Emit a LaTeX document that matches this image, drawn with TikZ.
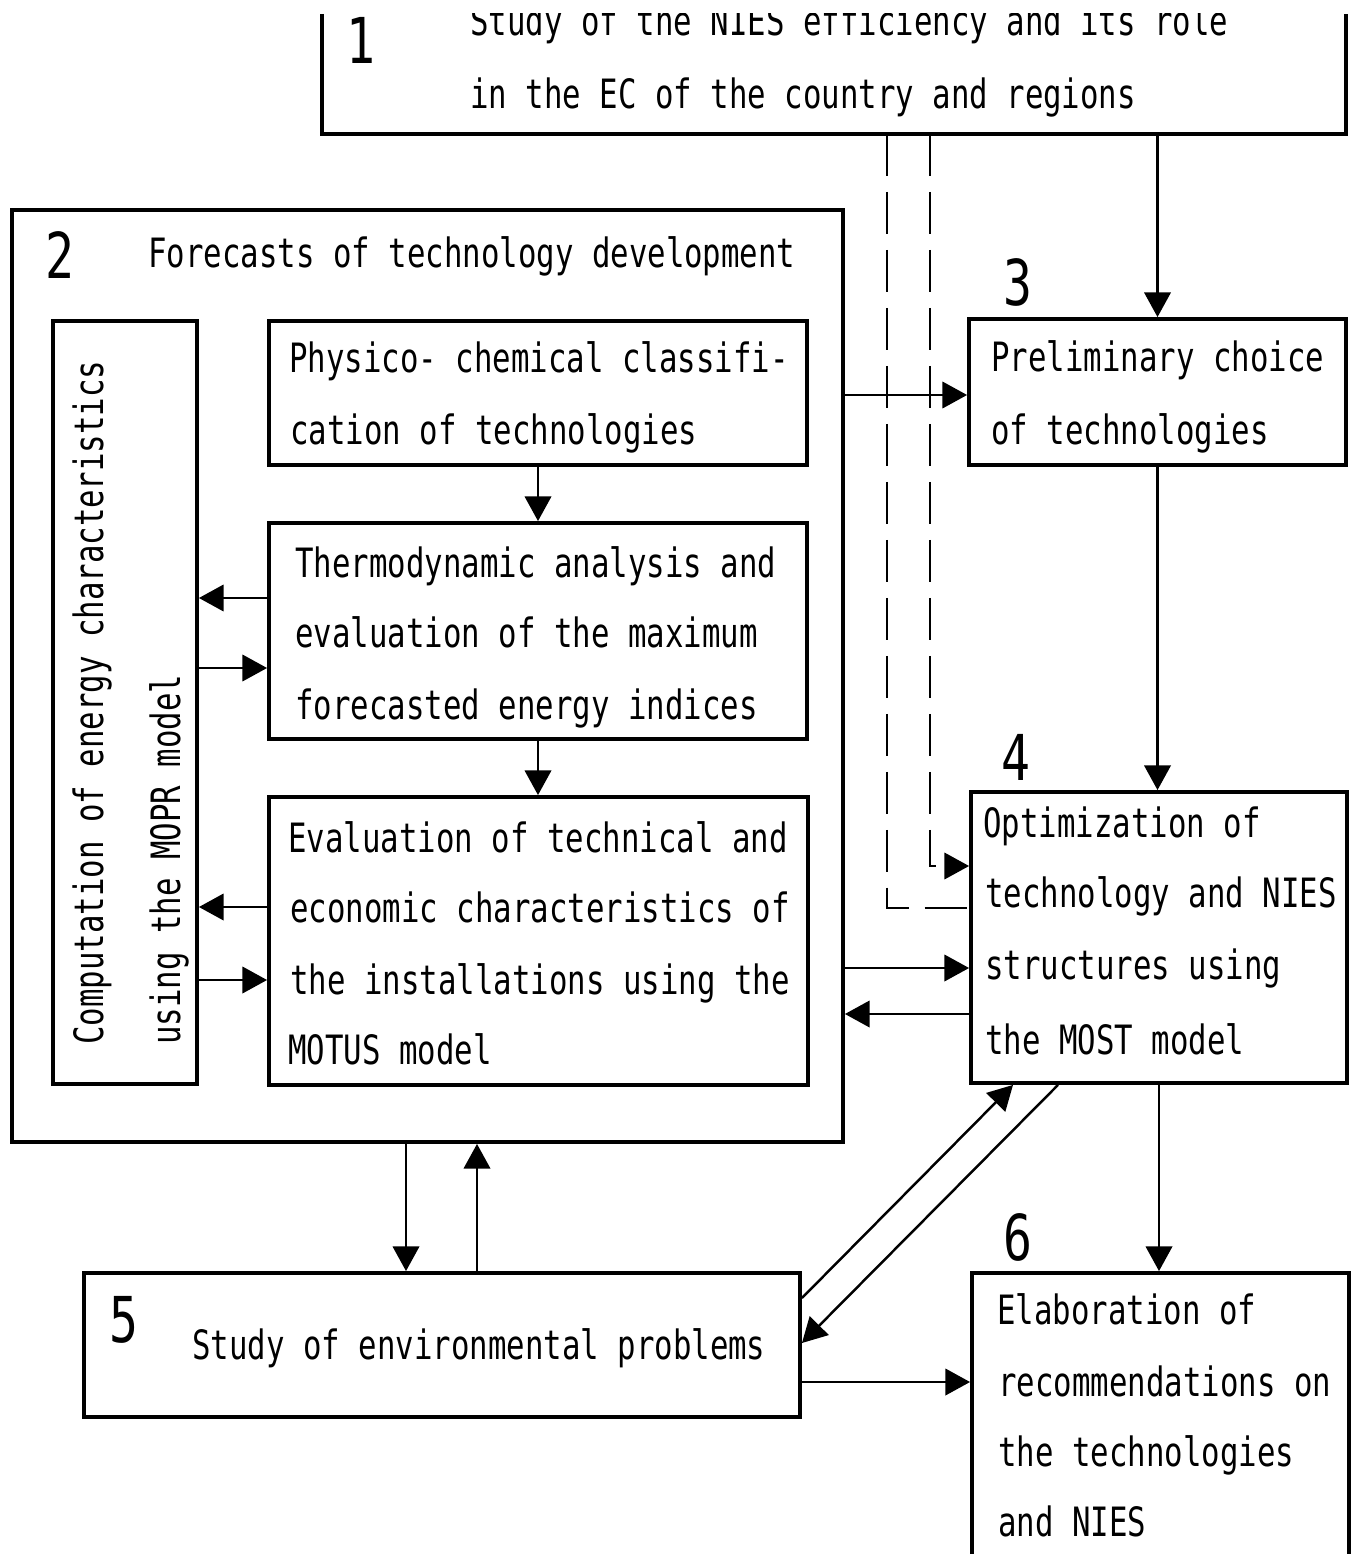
\documentclass[tikz,border=0pt]{standalone}
\usepackage{fontspec}
\setmainfont{DejaVu Sans Mono}[FakeStretch=0.76]
\usetikzlibrary{arrows.meta,fit}
\begin{document}
\begin{tikzpicture}[x=0.02cm,y=-0.02cm,
  box/.style={draw, line width=2.2pt, inner sep=0pt},
  arr/.style={line width=1.4pt, -{Triangle[length=14pt,width=15pt]}},
  dashline/.style={line width=1.3pt, dash pattern=on 24pt off 9pt},
  txt/.style={anchor=base west, inner sep=0pt, font=\fontsize{23}{40}\selectfont},
  vtxt/.style={anchor=base west, inner sep=0pt, rotate=90, font=\fontsize{23}{40}\selectfont},
  num/.style={inner sep=0pt, font=\fontsize{36}{40}\selectfont}]
\fill[white] (0,0) rectangle (1359,1554);
\useasboundingbox (0,0) rectangle (1359,1554);

% boxes
\node[inner sep=0pt, outer sep=0pt, fit={(322,-60) (1346,134)}] (b1) {};
\draw[line width=2.2pt] (b1.west |- 0,14) -- (b1.south west) -- (b1.south east) -- (b1.east |- 0,14);
\node[box, fit={(12,210) (843,1142)}] (b2) {};
\node[box, fit={(53,321) (197,1084)}] (vb) {};
\node[box, fit={(269,321) (807,465)}] (ph) {};
\node[box, fit={(269,523) (807,739)}] (th) {};
\node[box, fit={(269,797) (808,1085)}] (ev) {};
\node[box, fit={(969,319) (1346,465)}] (b3) {};
\node[box, fit={(971,792) (1347,1083)}] (b4) {};
\node[box, fit={(84,1273) (800,1417)}] (b5) {};
\node[box, fit={(972,1273) (1349,1640)}] (b6) {};

% numbers
\node[num] (n1) at (361,40) {1};
\node[num] (n2) at (60,255) {2};
\node[num] (n3) at (1018,282) {3};
\node[num] (n4) at (1016,757) {4};
\node[num] (n5) at (124,1320) {5};
\node[num] (n6) at (1018,1237) {6};

% texts
\node[txt] (t1a) at (470,36) {Study of the NIES efficiency and its role};
\node[txt] (t1b) at (470,109) {in the EC of the country and regions};
\node[txt] (t2) at (148,268) {Forecasts of technology development};
\node[txt] (tpa) at (289,372) {Physico- chemical classifi-};
\node[txt] (tpb) at (290,444) {cation of technologies};
\node[txt] (tta) at (295,577) {Thermodynamic analysis and};
\node[txt] (ttb) at (295,647) {evaluation of the maximum};
\node[txt] (ttc) at (295,719) {forecasted energy indices};
\node[txt] (tea) at (288,852) {Evaluation of technical and};
\node[txt] (teb) at (290,922) {economic characteristics of};
\node[txt] (tec) at (290,994) {the installations using the};
\node[txt] (ted) at (288,1064) {MOTUS model};
\node[txt] (t3a) at (991,371) {Preliminary choice};
\node[txt] (t3b) at (991,444) {of technologies};
\node[txt] (t4a) at (983,837) {Optimization of};
\node[txt] (t4b) at (985,907) {technology and NIES};
\node[txt] (t4c) at (985,979) {structures using};
\node[txt] (t4d) at (985,1054) {the MOST model};
\node[txt] (t5) at (192,1359) {Study of environmental problems};
\node[txt] (t6a) at (997,1324) {Elaboration of};
\node[txt] (t6b) at (998,1396) {recommendations on};
\node[txt] (t6c) at (998,1466) {the technologies};
\node[txt] (t6d) at (998,1536) {and NIES};
\node[vtxt] (tva) at (103,1045) {Computation of energy characteristics};
\node[vtxt] (tvb) at (180,1045) {using the MOPR model};

% connectors
\draw[arr] (b3.north |- b1.south) -- (b3.north);
\draw[arr] (b2.east |- 0,395) -- (b3.west |- 0,395);
\draw[arr] (b3.south) -- (b3.south |- b4.north);
\coordinate (d1) at (887,908);
\coordinate (d2) at (930,866);
\draw[dashline] (d1 |- b1.south) -- (d1) -- (d1 -| b4.west);
\draw[dashline, -{Triangle[length=14pt,width=15pt]}] (d2 |- b1.south) -- (d2) -- (d2 -| b4.west);
\draw[arr] (b2.east |- 0,968) -- (b4.west |- 0,968);
\draw[arr] (b4.west |- 0,1014) -- (b2.east |- 0,1014);
\draw[arr] (ph.south) -- (ph.south |- th.north);
\draw[arr] (th.south) -- (th.south |- ev.north);
\draw[arr] (th.west |- 0,598) -- (vb.east |- 0,598);
\draw[arr] (vb.east |- 0,668) -- (th.west |- 0,668);
\draw[arr] (ev.west |- 0,907) -- (vb.east |- 0,907);
\draw[arr] (vb.east |- 0,980) -- (ev.west |- 0,980);
\draw[arr] (b2.south -| 406,0) -- (b5.north -| 406,0);
\draw[arr] (b5.north -| 477,0) -- (b2.south -| 477,0);
\draw[arr] (b5.east |- 0,1298) -- (b4.south -| 1013,0);
\draw[arr] (b4.south -| 1058,0) -- (b5.east |- 0,1343);
\draw[arr] (b4.south) -- (b4.south |- b6.north);
\draw[arr] (b5.east |- 0,1382) -- (b6.west |- 0,1382);

% the reference is cut off at the top
\fill[white] (0,0) rectangle (1359,13);
\end{tikzpicture}
\end{document}
